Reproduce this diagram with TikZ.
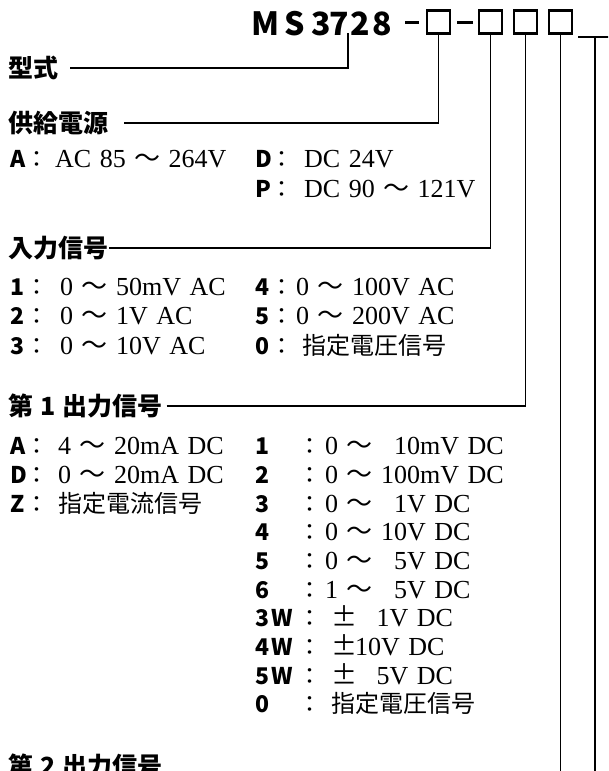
\documentclass[tikz,border=0pt]{standalone}
\usepackage{fontspec}
\setmainfont{Liberation Serif}[WordSpace=1.3]
\newfontfamily\jp{Noto Sans CJK JP}
\def\wv{{\jp ～}}
\def\pm{\makebox[22pt][c]{\jp ±}}
\begin{document}
\begin{tikzpicture}[x=1pt,y=-1pt,
 lbl/.style={anchor=west, inner sep=0pt, font=\jp\bfseries\fontsize{25pt}{25pt}\selectfont},
 cd/.style={anchor=base west, inner sep=0pt, font=\jp\bfseries\fontsize{23pt}{23pt}\selectfont},
 cl/.style={anchor=base, inner sep=0pt, font=\jp\fontsize{23pt}{23pt}\selectfont},
 vl/.style={anchor=base west, inner sep=0pt, font=\fontsize{26pt}{26pt}\selectfont},
 jv/.style={anchor=base west, inner sep=0pt, font=\jp\fontsize{24pt}{24pt}\selectfont},
 ttl/.style={anchor=base, inner sep=0pt, font=\jp\bfseries\fontsize{32pt}{32pt}\selectfont},
 bx/.style={draw, line width=2.4pt, minimum width=23pt, minimum height=23pt, inner sep=0pt},
 ln/.style={line width=1.8pt},
 dsh/.style={line width=3pt}]
\path[use as bounding box] (0,0) rectangle (608,771);
\clip (0,0) rectangle (608,771);
\fill[white] (0,0) rectangle (608,771);
% title
\node[ttl] (tM) at (266,35) {M};
\node[ttl] (tS) at (294.5,35) {S};
\node[ttl] (t3) at (321,35) {3};
\node[ttl] (t7) at (339,35) {7};
\node[ttl] (t2) at (360,35) {2};
\node[ttl] (t8) at (382,35) {8};
\draw[dsh] (405,22) -- (419,22);
\node[bx] (b1) at (438.5,22) {};
\draw[dsh] (457,22) -- (473,22);
\node[bx] (b2) at (490.5,22) {};
\node[bx] (b3) at (525.5,22) {};
\node[bx] (b4) at (560.5,22) {};
\coordinate (tick) at (348,33);
\coordinate (b4end) at (560.5,780);
\coordinate (uL) at (578,37);
\coordinate (uR) at (610,37);
\coordinate (uM) at (595,37);
\coordinate (uB) at (595,780);
% headers
\node[lbl] (kata) at (8,68) {型式};
\node[lbl] (pwr) at (8,123) {供給電源};
\node[lbl] (inp) at (8,248) {入力信号};
\node[lbl] (out1) at (8,406) {第\hspace{7pt}1\hspace{7pt}出力信号};
\node[lbl] (out2) at (8,766) {第\hspace{7pt}2\hspace{7pt}出力信号};
% connectors
\draw[ln] ([xshift=12pt]kata.east) -| (tick);
\draw[ln] ([xshift=16pt]pwr.east) -| (b1.south);
\draw[ln] ([xshift=1pt]inp.east) -| (b2.south);
\draw[ln] ([xshift=4pt]out1.east) -| (b3.south);
\draw[ln] (b4.south) -- (b4end);
\draw[ln] (uL) -- (uR);
\draw[ln] (uM) -- (uB);
% power supply
\node[cd] (pA) at (10,167) {A};
\node[cl] (pAc) at (37,167) {：};
\node[vl] (pAv) at (55,167) {AC 85 \wv{} 264V};
\node[cd] (pD) at (255,167) {D};
\node[cl] (pDc) at (282,167) {：};
\node[vl] (pDv) at (304,167) {DC 24V};
\node[cd] (pP) at (255,197) {P};
\node[cl] (pPc) at (282,197) {：};
\node[vl] (pPv) at (304,197) {DC 90 \wv{} 121V};
% input
\node[cd] (i1) at (10,295) {1};
\node[cl] (i1c) at (37,295) {：};
\node[vl] (i1v) at (60,295) {0 \wv{} 50mV AC};
\node[cd] (i2) at (10,324) {2};
\node[cl] (i2c) at (37,324) {：};
\node[vl] (i2v) at (60,324) {0 \wv{} 1V AC};
\node[cd] (i3) at (10,354) {3};
\node[cl] (i3c) at (37,354) {：};
\node[vl] (i3v) at (60,354) {0 \wv{} 10V AC};
\node[cd] (i4) at (255,295) {4};
\node[cl] (i4c) at (282,295) {：};
\node[vl] (i4v) at (296,295) {0 \wv{} 100V AC};
\node[cd] (i5) at (255,324) {5};
\node[cl] (i5c) at (282,324) {：};
\node[vl] (i5v) at (296,324) {0 \wv{} 200V AC};
\node[cd] (i0) at (255,354) {0};
\node[cl] (i0c) at (282,354) {：};
\node[jv] (i0v) at (302,354) {指定電圧信号};
% output 1, left
\node[cd] (oA) at (10,454) {A};
\node[cl] (oAc) at (37,454) {：};
\node[vl] (oAv) at (58,454) {4 \wv{} 20mA DC};
\node[cd] (oD) at (10,483) {D};
\node[cl] (oDc) at (37,483) {：};
\node[vl] (oDv) at (58,483) {0 \wv{} 20mA DC};
\node[cd] (oZ) at (10,512) {Z};
\node[cl] (oZc) at (37,512) {：};
\node[jv] (oZv) at (58,512) {指定電流信号};
% output 1, right
\node[cd] (r1) at (255,454) {1};
\node[cl] (r1c) at (309.5,454) {：};
\node[vl] (r1v) at (325,454) {0 \wv{} \phantom{0}10mV DC};
\node[cd] (r2) at (255,483) {2};
\node[cl] (r2c) at (309.5,483) {：};
\node[vl] (r2v) at (325,483) {0 \wv{} 100mV DC};
\node[cd] (r3) at (255,512) {3};
\node[cl] (r3c) at (309.5,512) {：};
\node[vl] (r3v) at (325,512) {0 \wv{} \phantom{0}1V DC};
\node[cd] (r4) at (255,540) {4};
\node[cl] (r4c) at (309.5,540) {：};
\node[vl] (r4v) at (325,540) {0 \wv{} 10V DC};
\node[cd] (r5) at (255,569) {5};
\node[cl] (r5c) at (309.5,569) {：};
\node[vl] (r5v) at (325,569) {0 \wv{} \phantom{0}5V DC};
\node[cd] (r6) at (255,598) {6};
\node[cl] (r6c) at (309.5,598) {：};
\node[vl] (r6v) at (325,598) {1 \wv{} \phantom{0}5V DC};
\node[cd] (r3w) at (255,626) {3\hspace{2pt}W};
\node[cl] (r3wc) at (309.5,626) {：};
\node[vl] (r3wv) at (333,626) {\pm{} \phantom{0}1V DC};
\node[cd] (r4w) at (255,655) {4\hspace{2pt}W};
\node[cl] (r4wc) at (309.5,655) {：};
\node[vl] (r4wv) at (333,655) {\pm{}10V DC};
\node[cd] (r5w) at (255,684) {5\hspace{2pt}W};
\node[cl] (r5wc) at (309.5,684) {：};
\node[vl] (r5wv) at (333,684) {\pm{} \phantom{0}5V DC};
\node[cd] (r0) at (255,712) {0};
\node[cl] (r0c) at (309.5,712) {：};
\node[jv] (r0v) at (331,712) {指定電圧信号};
\end{tikzpicture}
\end{document}
